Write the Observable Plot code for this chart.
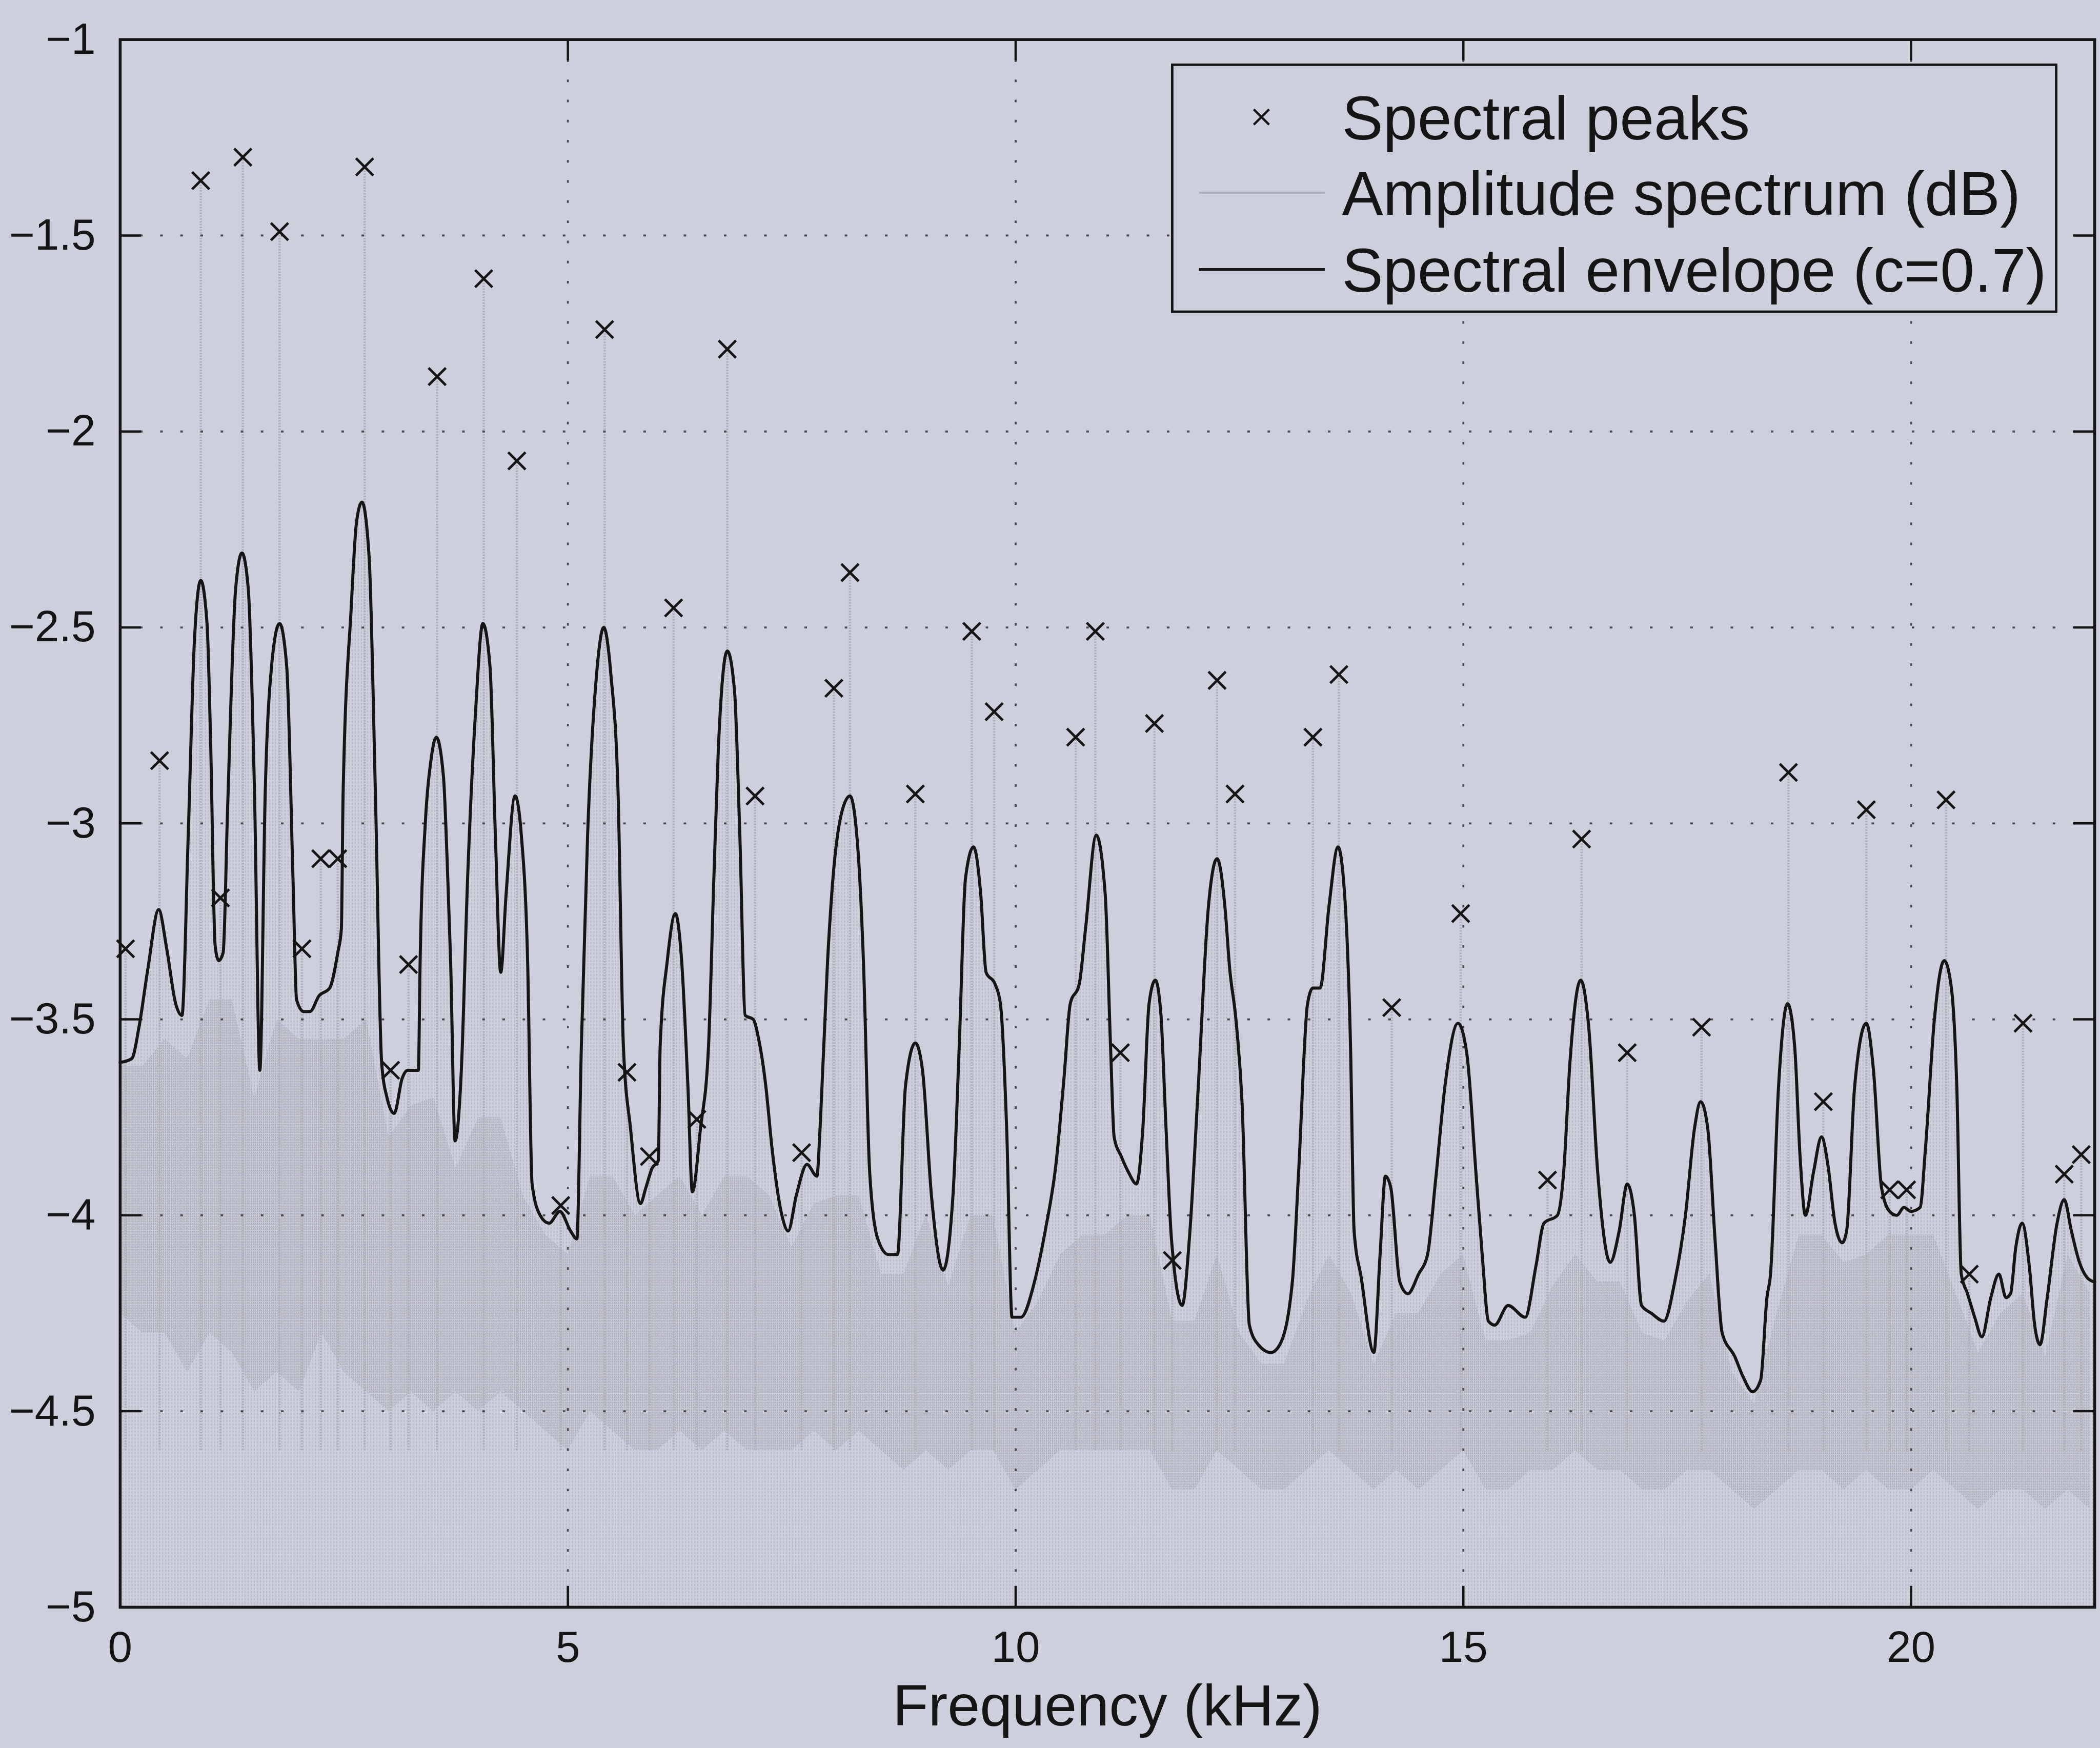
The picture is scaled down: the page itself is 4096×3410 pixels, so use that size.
<!DOCTYPE html>
<html><head><meta charset="utf-8">
<script src="https://cdn.jsdelivr.net/npm/d3@7"></script>
<script src="https://cdn.jsdelivr.net/npm/@observablehq/plot@0.6"></script>
<style>
html,body{margin:0;padding:0;background:#cecfdd;overflow:hidden;width:4096px;height:3410px}
#chart{position:relative;width:4096px;height:3410px;overflow:hidden}
svg{display:block}
</style></head><body><div id="chart"></div>
<script>
// ---------------- data ----------------
const xTicks = [0, 5, 10, 15, 20];
const yTicks = [-1, -1.5, -2, -2.5, -3, -3.5, -4, -4.5, -5];
const xGridTicks = [5, 10, 15, 20];
const yGridTicks = [-1.5, -2, -2.5, -3, -3.5, -4, -4.5];

const legendLabels = ["Spectral peaks", "Amplitude spectrum (dB)", "Spectral envelope (c=0.7)"];
const xLabel = "Frequency (kHz)";

// spectral peaks (x markers)
const peakFreq = [0.06,0.44,0.90,1.12,1.37,1.78,2.03,2.24,2.43,2.73,3.02,3.22,3.54,4.06,4.43,4.92,5.41,5.66,5.91,6.18,6.44,6.78,7.09,7.61,7.97,8.15,8.88,9.51,9.76,10.67,10.89,11.17,11.55,11.75,12.25,12.45,13.32,13.61,14.20,14.97,15.94,16.32,16.83,17.66,18.63,19.02,19.50,19.76,19.95,20.39,20.65,21.25,21.71,21.90];
const peakDb = [-3.32,-2.84,-1.36,-3.19,-1.30,-1.49,-3.32,-3.09,-3.09,-1.325,-3.63,-3.36,-1.86,-1.61,-2.075,-3.975,-1.74,-3.635,-3.85,-2.45,-3.755,-1.79,-2.93,-3.84,-2.655,-2.36,-2.925,-2.51,-2.715,-2.78,-2.51,-3.585,-2.745,-4.115,-2.635,-2.925,-2.78,-2.62,-3.47,-3.23,-3.91,-3.04,-3.585,-3.52,-2.87,-3.71,-2.965,-3.935,-3.935,-2.94,-4.15,-3.51,-3.895,-3.845];

// spectral envelope (c=0.7)
const envFreq = [0.00,0.13,0.21,0.31,0.43,0.52,0.62,0.69,0.76,0.83,0.90,0.97,1.01,1.06,1.10,1.15,1.20,1.29,1.36,1.43,1.50,1.56,1.62,1.69,1.78,1.86,1.93,1.97,2.05,2.12,2.22,2.34,2.43,2.47,2.49,2.58,2.64,2.70,2.78,2.85,2.92,2.98,3.06,3.15,3.21,3.33,3.35,3.41,3.47,3.53,3.61,3.66,3.69,3.74,3.81,3.88,3.97,4.05,4.13,4.19,4.25,4.31,4.41,4.48,4.55,4.60,4.69,4.79,4.91,5.03,5.10,5.15,5.22,5.32,5.40,5.48,5.56,5.62,5.70,5.81,5.87,5.94,6.01,6.03,6.11,6.20,6.27,6.34,6.39,6.48,6.57,6.63,6.68,6.78,6.86,6.92,6.98,7.07,7.13,7.21,7.28,7.39,7.46,7.55,7.67,7.78,7.82,7.90,7.96,8.06,8.15,8.24,8.30,8.37,8.46,8.58,8.68,8.77,8.88,8.96,9.06,9.19,9.30,9.37,9.44,9.53,9.61,9.67,9.77,9.83,9.90,9.96,10.06,10.21,10.33,10.45,10.54,10.61,10.71,10.78,10.90,11.00,11.06,11.10,11.18,11.26,11.35,11.42,11.49,11.56,11.62,11.68,11.74,11.86,11.94,12.04,12.15,12.25,12.34,12.39,12.46,12.53,12.61,12.71,12.85,12.95,13.09,13.16,13.26,13.32,13.40,13.50,13.60,13.66,13.74,13.78,13.86,14.00,14.07,14.13,14.19,14.29,14.38,14.50,14.60,14.69,14.80,14.94,15.04,15.14,15.21,15.28,15.35,15.50,15.69,15.81,15.90,16.05,16.12,16.19,16.31,16.40,16.50,16.64,16.74,16.83,16.91,16.99,17.10,17.24,17.36,17.48,17.58,17.65,17.73,17.81,17.89,18.03,18.12,18.23,18.32,18.39,18.43,18.52,18.62,18.70,18.76,18.82,18.91,19.00,19.07,19.15,19.23,19.28,19.37,19.50,19.58,19.67,19.76,19.84,19.92,20.00,20.10,20.16,20.26,20.37,20.45,20.51,20.56,20.63,20.71,20.79,20.89,20.98,21.06,21.11,21.17,21.24,21.32,21.38,21.44,21.52,21.63,21.71,21.79,21.88,21.97,22.05];
const envDb = [-3.61,-3.60,-3.52,-3.37,-3.22,-3.32,-3.46,-3.49,-3.03,-2.53,-2.38,-2.49,-2.79,-3.31,-3.35,-3.33,-2.96,-2.40,-2.31,-2.40,-2.92,-3.63,-2.92,-2.60,-2.49,-2.60,-3.14,-3.45,-3.48,-3.48,-3.44,-3.42,-3.33,-3.27,-2.92,-2.45,-2.23,-2.18,-2.32,-2.92,-3.61,-3.70,-3.74,-3.65,-3.63,-3.63,-3.35,-2.99,-2.84,-2.78,-2.88,-3.15,-3.35,-3.81,-3.63,-3.14,-2.71,-2.49,-2.60,-3.03,-3.38,-3.18,-2.93,-3.03,-3.35,-3.92,-4.00,-4.02,-3.99,-4.04,-4.06,-3.57,-3.03,-2.62,-2.50,-2.62,-2.92,-3.57,-3.78,-3.97,-3.93,-3.88,-3.86,-3.57,-3.35,-3.23,-3.35,-3.67,-3.94,-3.78,-3.57,-3.14,-2.81,-2.56,-2.66,-3.03,-3.49,-3.50,-3.55,-3.67,-3.83,-4.00,-4.04,-3.95,-3.87,-3.90,-3.76,-3.35,-3.14,-2.97,-2.93,-3.07,-3.35,-3.89,-4.06,-4.10,-4.10,-3.67,-3.56,-3.63,-3.95,-4.14,-3.95,-3.57,-3.14,-3.06,-3.18,-3.38,-3.41,-3.46,-3.78,-4.26,-4.26,-4.17,-4.04,-3.87,-3.65,-3.46,-3.41,-3.27,-3.03,-3.18,-3.57,-3.80,-3.85,-3.89,-3.92,-3.78,-3.46,-3.40,-3.48,-3.78,-4.06,-4.23,-4.06,-3.67,-3.22,-3.09,-3.22,-3.37,-3.50,-3.72,-4.28,-4.33,-4.35,-4.33,-4.17,-3.89,-3.46,-3.42,-3.42,-3.21,-3.06,-3.14,-3.57,-4.04,-4.16,-4.35,-4.10,-3.90,-3.93,-4.17,-4.20,-4.15,-4.10,-3.91,-3.66,-3.51,-3.59,-3.89,-4.10,-4.27,-4.28,-4.23,-4.26,-4.13,-4.02,-4.00,-3.89,-3.61,-3.40,-3.52,-3.89,-4.12,-4.04,-3.92,-4.00,-4.23,-4.25,-4.27,-4.17,-4.00,-3.78,-3.71,-3.78,-4.06,-4.30,-4.36,-4.41,-4.45,-4.42,-4.21,-4.15,-3.67,-3.46,-3.57,-3.85,-4.00,-3.89,-3.80,-3.87,-4.02,-4.07,-4.04,-3.67,-3.51,-3.63,-3.93,-3.99,-4.00,-3.98,-3.99,-3.98,-3.83,-3.50,-3.35,-3.42,-3.67,-4.15,-4.20,-4.26,-4.31,-4.21,-4.15,-4.21,-4.20,-4.08,-4.02,-4.13,-4.28,-4.33,-4.21,-4.02,-3.96,-4.04,-4.12,-4.16,-4.17];

// amplitude spectrum: dense noise body (top / bottom), read every 0.25 kHz
const bandFreq = [0,0.25,0.5,0.75,1,1.25,1.5,1.75,2,2.25,2.5,2.75,3,3.25,3.5,3.75,4,4.25,4.5,4.75,5,5.25,5.5,5.75,6,6.25,6.5,6.75,7,7.25,7.5,7.75,8,8.25,8.5,8.75,9,9.25,9.5,9.75,10,10.25,10.5,10.75,11,11.25,11.5,11.75,12,12.25,12.5,12.75,13,13.25,13.5,13.75,14,14.25,14.5,14.75,15,15.25,15.5,15.75,16,16.25,16.5,16.75,17,17.25,17.5,17.75,18,18.25,18.5,18.75,19,19.25,19.5,19.75,20,20.25,20.5,20.75,21,21.25,21.5,21.75,22];
const bandTop = [-3.62,-3.62,-3.55,-3.6,-3.45,-3.45,-3.7,-3.5,-3.55,-3.55,-3.55,-3.5,-3.8,-3.72,-3.7,-3.88,-3.75,-3.75,-3.95,-4.05,-4.1,-3.9,-3.9,-4.0,-3.95,-3.9,-4.0,-3.9,-3.9,-3.95,-4.08,-3.97,-3.95,-3.95,-4.15,-4.15,-4.0,-4.18,-4.0,-4.0,-4.3,-4.22,-4.1,-4.05,-4.05,-4.0,-4.0,-4.27,-4.27,-4.1,-4.3,-4.38,-4.38,-4.22,-4.1,-4.2,-4.38,-4.25,-4.25,-4.15,-4.1,-4.32,-4.32,-4.3,-4.18,-4.1,-4.17,-4.17,-4.3,-4.32,-4.22,-4.15,-4.4,-4.48,-4.25,-4.05,-4.05,-4.12,-4.1,-4.05,-4.05,-4.05,-4.2,-4.35,-4.25,-4.2,-4.36,-4.1,-4.2];
const bandBot = [-4.25,-4.3,-4.3,-4.4,-4.3,-4.35,-4.45,-4.4,-4.45,-4.3,-4.4,-4.45,-4.5,-4.45,-4.5,-4.45,-4.5,-4.45,-4.5,-4.55,-4.6,-4.5,-4.55,-4.6,-4.6,-4.55,-4.6,-4.55,-4.6,-4.6,-4.6,-4.55,-4.6,-4.55,-4.6,-4.65,-4.6,-4.65,-4.6,-4.6,-4.7,-4.65,-4.6,-4.6,-4.6,-4.6,-4.6,-4.7,-4.7,-4.6,-4.65,-4.7,-4.7,-4.65,-4.6,-4.65,-4.7,-4.65,-4.7,-4.65,-4.6,-4.7,-4.7,-4.65,-4.65,-4.6,-4.65,-4.65,-4.7,-4.7,-4.65,-4.65,-4.7,-4.75,-4.7,-4.65,-4.65,-4.7,-4.65,-4.7,-4.7,-4.65,-4.7,-4.75,-4.7,-4.7,-4.75,-4.7,-4.75];

// ---------------- layout / style ----------------
const K = 0.941;                       // reference -> window scale
const W = 4120, H = 3410;              // svg a bit wider than window: right frame is cut off as in the reference
const mL = 250 * K, mT = 82 * K;
const xRight = 4366.7 * K, yBottom = 3351 * K;
const mR = W - xRight, mB = H - yBottom;
const plotW = xRight - mL, plotH = yBottom - mT;
const BG = "#cecfdd";
const INK = "#151515";
const SPEC = "#b0b0bb";
const FONT = "'Liberation Sans', Arial, Helvetica, sans-serif";
const TICK_FS = 86;
const LEG_FS = 121;
const XLAB_FS = 114;
const TICK_LEN = 44 * K;
const fmt = d => String(d).replace("-", "\u2212");

const peaks = peakFreq.map((f, i) => ({f, db: peakDb[i]}));
const env = envFreq.map((f, i) => ({f, db: envDb[i]}));
const band = bandFreq.map((f, i) => ({f, top: bandTop[i], bot: bandBot[i]}));

function defsMark() {
  const d = d3.create("svg:defs");
  const pl = d.append("pattern").attr("id", "spLight").attr("patternUnits", "userSpaceOnUse")
    .attr("width", 6).attr("height", 7);
  pl.append("rect").attr("x", 0).attr("y", 0).attr("width", 2.2).attr("height", 4.5).attr("fill", "#b9bac6");
  const pd = d.append("pattern").attr("id", "spDense").attr("patternUnits", "userSpaceOnUse")
    .attr("width", 4).attr("height", 5);
  pd.append("rect").attr("x", 0).attr("y", 0).attr("width", 2).attr("height", 3.5).attr("fill", "#adaeb9");
  pd.append("rect").attr("x", 2).attr("y", 2).attr("width", 2).attr("height", 2).attr("fill", "#c0c1cd");
  return d.node();
}

const chart = Plot.plot({
  width: W, height: H,
  marginLeft: mL, marginRight: mR, marginTop: mT, marginBottom: mB,
  x: {domain: [0, 22.05]},
  y: {domain: [-5, -1]},
  style: {background: BG, fontFamily: FONT, fontSize: TICK_FS + "px", color: INK, overflow: "visible"},
  marks: [
    defsMark,
    // amplitude spectrum (light texture under the envelope, dense noise body, harmonic spikes)
    Plot.areaY(env, {x: "f", y1: -5, y2: "db", fill: "url(#spLight)", curve: "monotone-x"}),
    Plot.areaY(band, {x: "f", y1: "bot", y2: "top", fill: "url(#spDense)"}),
    Plot.ruleX(peaks, {x: "f", y1: -4.6, y2: "db", stroke: SPEC, strokeWidth: 4.5, strokeDasharray: "3 2.5"}),
    // dotted grid
    Plot.gridY(yGridTicks, {stroke: "#4a4a50", strokeOpacity: 1, strokeWidth: 3.8, strokeDasharray: "5 34.5"}),
    Plot.gridX(xGridTicks, {stroke: "#4a4a50", strokeOpacity: 1, strokeWidth: 3.8, strokeDasharray: "5 34.5"}),
    // spectral envelope
    Plot.line(env, {x: "f", y: "db", stroke: INK, strokeWidth: 6, curve: "monotone-x"}),
    // spectral peaks
    Plot.dot(peaks, {x: "f", y: "db", symbol: "times", r: 15.5, stroke: INK, strokeWidth: 5}),
    // box + inward ticks
    Plot.frame({stroke: INK, strokeWidth: 5.6}),
    Plot.tickY(yTicks, {y: d => d, stroke: INK, strokeWidth: 4.5, insetRight: plotW - TICK_LEN}),
    Plot.tickY(yTicks, {y: d => d, stroke: INK, strokeWidth: 4.5, insetLeft: plotW - TICK_LEN}),
    Plot.tickX(xTicks, {x: d => d, stroke: INK, strokeWidth: 4.5, insetTop: plotH - TICK_LEN}),
    Plot.tickX(xTicks, {x: d => d, stroke: INK, strokeWidth: 4.5, insetBottom: plotH - TICK_LEN}),
    // tick labels
    Plot.axisY(yTicks, {tickSize: 0, tickPadding: 48, tickFormat: fmt, label: null, fontSize: TICK_FS}),
    Plot.axisX(xTicks, {tickSize: 0, tickPadding: 46, tickFormat: fmt, label: null, fontSize: TICK_FS}),
    // x label
    Plot.text([xLabel], {frameAnchor: "bottom", dy: 195, fontSize: XLAB_FS, lineAnchor: "middle", fill: INK})
  ]
});

// ---------------- legend (inside the axes, top right) ----------------
const svg = d3.select(chart);
const lg = svg.append("g").attr("font-family", FONT).attr("font-size", LEG_FS).attr("fill", INK)
  .attr("text-anchor", "start");
const bx = 2444 * K, by = 135 * K, bw = (4287 - 2444) * K, bh = (650 - 135) * K;
lg.append("rect").attr("x", bx).attr("y", by).attr("width", bw).attr("height", bh)
  .attr("fill", BG).attr("stroke", INK).attr("stroke-width", 4.8);
const rowY = [244 * K, 402 * K, 562 * K];
const symX = 2630 * K, lineX1 = 2500 * K, lineX2 = 2762 * K, textX = 2798 * K;
// row 1: x marker
const s = 15;
lg.append("path").attr("d", `M${symX - s},${rowY[0] - s}L${symX + s},${rowY[0] + s}M${symX - s},${rowY[0] + s}L${symX + s},${rowY[0] - s}`)
  .attr("stroke", INK).attr("stroke-width", 4.5).attr("fill", "none");
// row 2: light gray line
lg.append("line").attr("x1", lineX1).attr("x2", lineX2).attr("y1", rowY[1]).attr("y2", rowY[1])
  .attr("stroke", SPEC).attr("stroke-width", 4);
// row 3: black line
lg.append("line").attr("x1", lineX1).attr("x2", lineX2).attr("y1", rowY[2]).attr("y2", rowY[2])
  .attr("stroke", INK).attr("stroke-width", 5.5);
legendLabels.forEach((t, i) => {
  lg.append("text").attr("x", textX).attr("y", rowY[i]).attr("dy", "0.36em")
    .attr("text-anchor", "start").text(t);
});

document.getElementById("chart").appendChild(chart);
</script></body></html>
